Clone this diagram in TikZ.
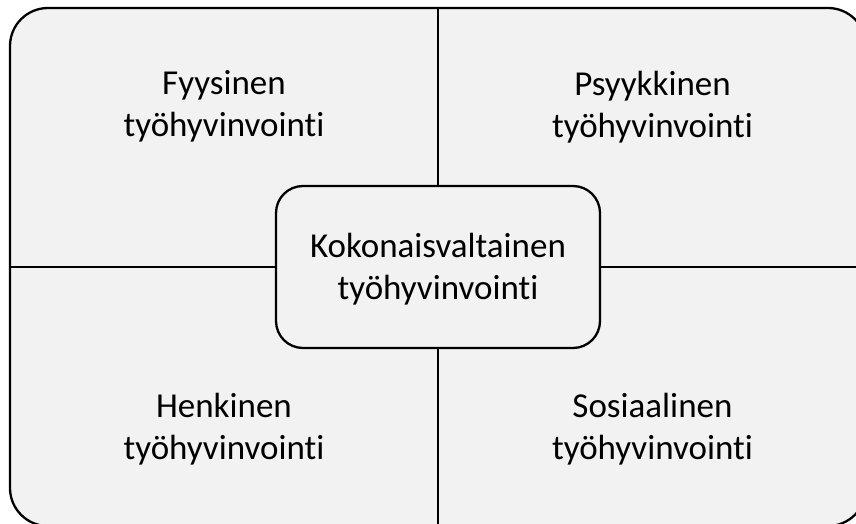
\documentclass[tikz,border=0pt]{standalone}
\usepackage{fontspec}
\setmainfont[Ligatures={NoCommon,NoContextual}]{Carlito}
\definecolor{panel}{HTML}{F2F2F2}
\begin{document}
\begin{tikzpicture}[x=1pt,y=-1pt,
  frame/.style={draw=black,line width=2.3pt,fill=panel,rounded corners=38pt,
    minimum width=856pt,minimum height=518pt,inner sep=0pt,outer sep=0pt},
  core/.style={draw=black,line width=2.3pt,fill=panel,rounded corners=27pt,
    minimum width=324pt,minimum height=162pt,inner sep=0pt,outer sep=0pt},
  label/.style={align=center,anchor=base,inner sep=0pt,font=\fontsize{35}{42}\selectfont},
  divider/.style={draw=black,line width=2.2pt}]
\useasboundingbox (0,0) rectangle (856,524);
\clip (0,0) rectangle (856,524);
\node[frame] (frame) at (438,267) {};
\node[core] (core) at (438,267) {};
\node[label] (corelabel) at (438,299) {Kokonaisvaltainen\\työhyvinvointi};
\draw[divider] (core.north) -- (core.north |- frame.north);
\draw[divider] (core.south) -- (core.south |- frame.south);
\draw[divider] (core.west) -- (core.west -| frame.west);
\draw[divider] (core.east) -- (core.east -| frame.east);
\node[label] (fyys) at (224,136.5) {Fyysinen\\työhyvinvointi};
\node[label] (psyk) at (652.5,137.5) {Psyykkinen\\työhyvinvointi};
\node[label] (henk) at (224,459) {Henkinen\\työhyvinvointi};
\node[label] (sos) at (652.5,459) {Sosiaalinen\\työhyvinvointi};
\end{tikzpicture}
\end{document}
